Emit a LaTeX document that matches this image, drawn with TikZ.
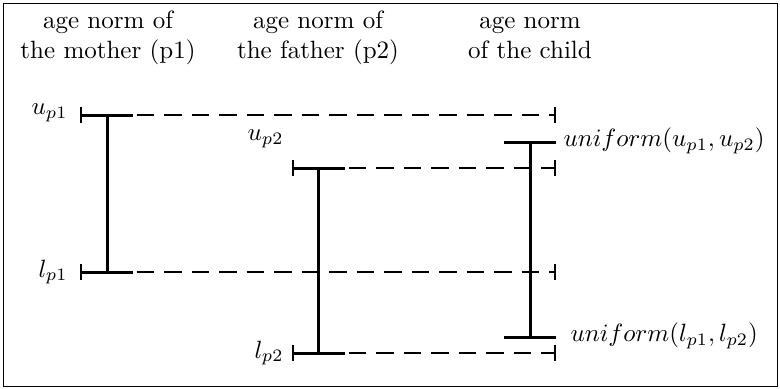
\documentclass[tikz,border=0pt]{standalone}
\usetikzlibrary{arrows.meta}
\begin{document}
\begin{tikzpicture}[x=0.4pt,y=-0.4pt,
  barline/.style={line width=1.2pt},
  guide/.style={line width=0.8pt,dash pattern=on 7pt off 4pt,{Bar[width=6.4pt,line width=0.8pt]}-{Bar[width=6.4pt,line width=0.8pt]}},
  head/.style={align=center,font=\fontsize{10}{12}\selectfont},
  lab/.style={inner sep=0pt}]
\useasboundingbox (0,0) rectangle (780,388);
\draw[line width=0.4pt] (3,3) rectangle (777,386);
% headings
\node[head] (h1) at (108,38) {age norm of\\the mother (p1)};
\node[head] (h2) at (318,38) {age norm of\\the father (p2)};
\node[head] (h3) at (530,38) {age norm\\of the child};
% coordinates
\coordinate (m1l) at (80,115);  \coordinate (m1c) at (107,115); \coordinate (m1r) at (133,115);
\coordinate (m2l) at (80,272);  \coordinate (m2c) at (107,272); \coordinate (m2r) at (133,272);
\coordinate (f1l) at (292,168); \coordinate (f1c) at (318,168); \coordinate (f1r) at (345,168);
\coordinate (f2l) at (292,353); \coordinate (f2c) at (318,353); \coordinate (f2r) at (345,353);
\coordinate (c1l) at (504,142); \coordinate (c1c) at (530,142); \coordinate (c1r) at (556,142);
\coordinate (c2l) at (504,337); \coordinate (c2c) at (530,337); \coordinate (c2r) at (556,337);
\coordinate (e1) at (556,115); \coordinate (e2) at (556,272);
\coordinate (e3) at (556,168); \coordinate (e4) at (556,353);
% guide lines
\draw[guide] (m1l) -- (e1);
\draw[guide] (m2l) -- (e2);
\draw[guide] (f1l) -- (e3);
\draw[guide] (f2l) -- (e4);
% bars
\draw[barline] (m1l) -- (m1r) (m1c) -- (m2c) (m2l) -- (m2r);
\draw[barline] (f1l) -- (f1r) (f1c) -- (f2c) (f2l) -- (f2r);
\draw[barline] (c1l) -- (c1r) (c1c) -- (c2c) (c2l) -- (c2r);
% labels
\node[lab,anchor=east] (lu1) at (68,113) {$u_{p1}$};
\node[lab,anchor=east] (ll1) at (68,272) {$l_{p1}$};
\node[lab,anchor=east] (lu2) at (284,139) {$u_{p2}$};
\node[lab,anchor=east] (ll2) at (284,353) {$l_{p2}$};
\node[lab,anchor=west] (lc1) at (563,141) {$uniform(u_{p1},u_{p2})$};
\node[lab,anchor=west] (lc2) at (570,336) {$uniform(l_{p1},l_{p2})$};
\end{tikzpicture}
\end{document}
